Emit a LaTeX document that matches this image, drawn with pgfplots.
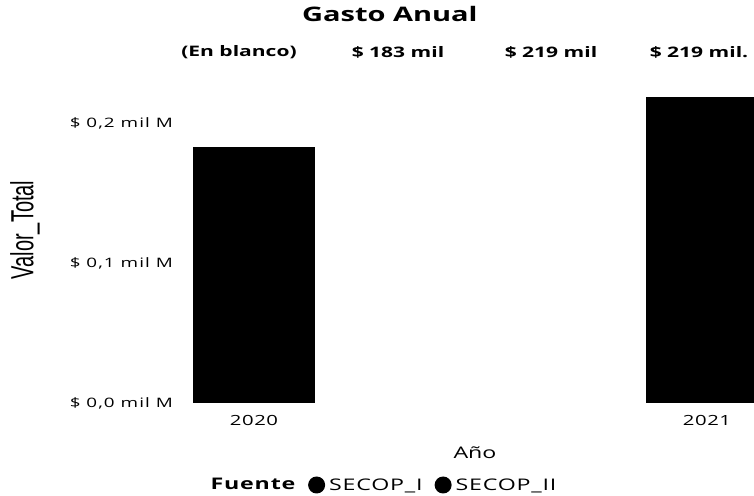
\documentclass[border=0pt]{standalone}
\usepackage{graphicx}
\usepackage{pgfplots}
\pgfplotsset{compat=1.18}
\usepackage{fontspec}
\setmainfont{Open Sans}[FakeStretch=1.45]
\newfontfamily\ylfont{Liberation Sans}
\begin{document}
\begin{tikzpicture}
\fill[white] (-185bp,-93bp) rectangle (569bp,403bp);
\begin{axis}[
  at={(0,0)}, anchor=south west,
  scale only axis, width=569bp, height=335.5bp,
  xmin=-0.1523, xmax=1.1038, ymin=0, ymax=0.24,
  clip mode=individual,
  axis line style={draw=none}, major tick style={draw=none},
  /pgf/number format/assume math mode=true,
  xtick={0,1}, xticklabels={2020,2021},
  ytick={0,0.1,0.2},
  yticklabels={{\$ 0,0 mil M},{\$ 0,1 mil M},{\$ 0,2 mil M}},
  yticklabel style={font=\fontsize{13bp}{15bp}\selectfont\addfontfeature{LetterSpace=8}, anchor=east, inner sep=0pt, xshift=-12bp},
  xticklabel style={font=\fontsize{14bp}{16bp}\selectfont\addfontfeature{LetterSpace=4}, anchor=north, inner sep=0pt, yshift=-12bp},
  title={Gasto Anual},
  title style={at={(axis description cs:0.360,1.1416)}, anchor=center, inner sep=0pt, font=\bfseries\fontsize{20bp}{24bp}\selectfont},
  ylabel={\scalebox{1}[1.6]{Valor\_Total}},
  ylabel style={at={(axis description cs:-0.2812,0.5157)}, anchor=center, inner sep=0pt, font=\ylfont\fontsize{20bp}{24bp}\selectfont},
  xlabel={Año},
  xlabel style={at={(axis description cs:0.5097,-0.149)}, anchor=center, inner sep=0pt, font=\fontsize{16bp}{19bp}\selectfont},
  legend columns=-1,
  legend style={at={(axis description cs:0.3489,-0.2444)}, anchor=center, draw=none, fill=none, inner sep=0pt,
    font=\fontsize{16bp}{19bp}\selectfont\addfontfeature{LetterSpace=5},
    /tikz/every even column/.append style={column sep=10bp}},
]
\addlegendimage{empty legend}
\addlegendentry{\textbf{Fuente}\hspace{7bp}}
\addplot[ybar, bar width=0.2693, bar shift=0pt, fill=black, draw=none,
  legend image code/.code={\fill[black] (0bp,0bp) circle (8.5bp); \path (10.5bp,0bp);}]
  coordinates {(0,0.183)};
\addlegendentry{SECOP\_I}
\addplot[ybar, bar width=0.2693, bar shift=0pt, fill=black, draw=none,
  legend image code/.code={\fill[black] (0bp,0bp) circle (8.5bp); \path (10.5bp,0bp);}]
  coordinates {(1,0.219)};
\addlegendentry{SECOP\_II}
\node[font=\bfseries\fontsize{14.5bp}{17bp}\selectfont] at (axis description cs:0.0949,1.046) {(En blanco)};
\node[font=\bfseries\fontsize{14.5bp}{17bp}\selectfont] at (axis description cs:0.3743,1.046) {\$ 183 mil};
\node[font=\bfseries\fontsize{14.5bp}{17bp}\selectfont] at (axis description cs:0.6432,1.046) {\$ 219 mil};
\node[font=\bfseries\fontsize{14.5bp}{17bp}\selectfont] at (axis description cs:0.9033,1.046) {\$ 219 mil.};
\end{axis}
\pgfresetboundingbox
\useasboundingbox (-185bp,-93bp) rectangle (569bp,403bp);
\end{tikzpicture}
\end{document}
